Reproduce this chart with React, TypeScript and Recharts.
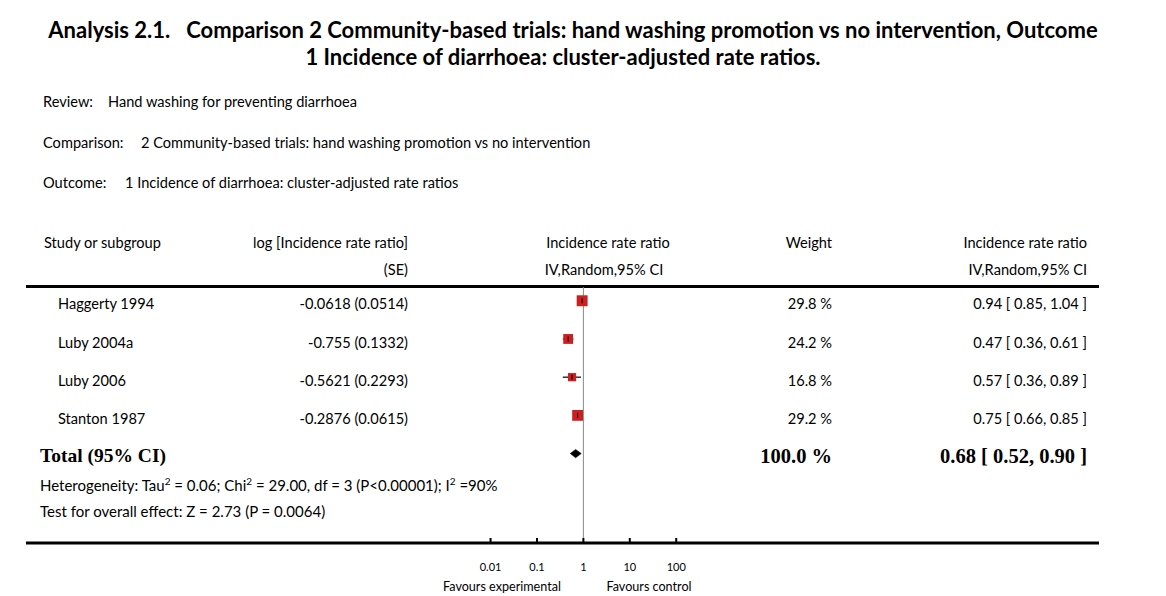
import React from 'react';
import { ScatterChart, Scatter, XAxis, YAxis, ErrorBar, ReferenceLine } from 'recharts';

// study rows
const studies = ['Haggerty 1994', 'Luby 2004a', 'Luby 2006', 'Stanton 1987'];
const logEstimates = [-0.0618, -0.755, -0.5621, -0.2876];
const standardErrors = [0.0514, 0.1332, 0.2293, 0.0615];
const weights = [29.8, 24.2, 16.8, 29.2];
const rateRatios = [0.94, 0.47, 0.57, 0.75];
const lowerCI = [0.85, 0.36, 0.36, 0.66];
const upperCI = [1.04, 0.61, 0.89, 0.85];

// pooled result
const totalWeight = 100.0;
const totalRatio = 0.68;
const totalLower = 0.52;
const totalUpper = 0.9;

const axisTicks = [0.01, 0.1, 1, 10, 100];

// axis domains chosen so the log axis runs under the whole table width
const X_MIN = 10 ** -12.01;
const X_MAX = 10 ** 11.11;
const DIAMOND_HALF = 0.11;

const SANS = 'Lato, "Open Sans", sans-serif';
const SERIF = '"Liberation Serif", "DejaVu Serif", serif';

const studyPoints = studies.map((name, i) => ({
  name,
  x: rateRatios[i],
  y: i,
  w: weights[i],
  err: [rateRatios[i] - lowerCI[i], upperCI[i] - rateRatios[i]],
}));

const totalRow = studies.length;
const diamondPoints = [
  { x: totalLower, y: totalRow },
  { x: totalRatio, y: totalRow - DIAMOND_HALF },
  { x: totalUpper, y: totalRow },
  { x: totalRatio, y: totalRow + DIAMOND_HALF },
];

const rowY = [304, 343, 381, 419];
const fmtCI = (v: number, lo: number, hi: number) =>
  `${v.toFixed(2)} [ ${lo.toFixed(2)}, ${hi.toFixed(2)} ]`;

type TProps = {
  x: number;
  y: number;
  align?: 'left' | 'right' | 'center';
  size?: number;
  bold?: boolean;
  font?: string;
  children: React.ReactNode;
};

const T: React.FC<TProps> = ({ x, y, align = 'left', size = 14.6, bold, font = SANS, children }) => {
  const style: React.CSSProperties = {
    position: 'absolute',
    top: y - 12,
    height: 24,
    lineHeight: '24px',
    fontSize: size,
    fontFamily: font,
    fontWeight: bold ? 700 : 400,
    color: '#000',
    whiteSpace: 'pre',
  };
  if (align === 'left') style.left = x;
  if (align === 'right') style.right = 1166 - x;
  if (align === 'center') {
    style.left = x - 600;
    style.width = 1200;
    style.textAlign = 'center';
  }
  return <div style={style}>{children}</div>;
};

const AxisTick = (props: any) => {
  const { x, y, payload } = props;
  return (
    <g>
      <line x1={x} x2={x} y1={y - 5} y2={y} stroke="#000" strokeWidth={2} />
      <text x={x} y={y + 28} textAnchor="middle" fontSize={11} fontFamily={SANS} fill="#000">
        {payload.value}
      </text>
    </g>
  );
};

const Square = (props: any) => {
  const { cx, cy, payload } = props;
  const s = 2 * Math.sqrt(payload.w);
  return <rect x={cx - s / 2} y={cy - s / 2} width={s} height={s} fill="#cc1f1f" />;
};

const CenterTick = (props: any) => {
  const { cx, cy } = props;
  return <line x1={cx} x2={cx} y1={cy - 2.5} y2={cy + 2.5} stroke="#000" strokeWidth={1} />;
};

const Diamond = (props: any) => {
  const pts = (props.points || []).map((p: any) => `${p.x},${p.y}`).join(' ');
  return <polygon points={pts} fill="#000" stroke="#000" strokeWidth={0.5} />;
};

const sup: React.CSSProperties = { fontSize: 10, verticalAlign: 'super', lineHeight: 0 };

const App: React.FC = () => {
  return (
    <div
      style={{
        position: 'absolute',
        left: 0,
        top: 0,
        width: 1166,
        height: 596,
        overflow: 'hidden',
        background: '#fff',
      }}
    >
      <T x={573} y={30} align="center" size={22} bold>
        {'Analysis 2.1.   Comparison 2 Community-based trials: hand washing promotion vs no intervention, Outcome'}
      </T>
      <T x={563} y={57} align="center" size={22} bold>
        1 Incidence of diarrhoea: cluster-adjusted rate ratios.
      </T>

      <T x={43} y={102}>Review:</T>
      <T x={108} y={102}>Hand washing for preventing diarrhoea</T>
      <T x={43} y={143}>Comparison:</T>
      <T x={141} y={143}>2 Community-based trials: hand washing promotion vs no intervention</T>
      <T x={43} y={183}>Outcome:</T>
      <T x={125} y={183}>1 Incidence of diarrhoea: cluster-adjusted rate ratios</T>

      <T x={44} y={243}>Study or subgroup</T>
      <T x={408} y={243} align="right">log [Incidence rate ratio]</T>
      <T x={408} y={270} align="right">(SE)</T>
      <T x={608} y={243} align="center">Incidence rate ratio</T>
      <T x={604} y={270} align="center">IV,Random,95% CI</T>
      <T x={832} y={243} align="right">Weight</T>
      <T x={1087} y={243} align="right">Incidence rate ratio</T>
      <T x={1087} y={270} align="right">IV,Random,95% CI</T>

      <div style={{ position: 'absolute', left: 26, top: 285, width: 1073, height: 3, background: '#000' }} />

      {studies.map((name, i) => (
        <React.Fragment key={name}>
          <T x={58} y={rowY[i]}>{name}</T>
          <T x={408} y={rowY[i]} align="right">{`${logEstimates[i]} (${standardErrors[i]})`}</T>
          <T x={832} y={rowY[i]} align="right">{`${weights[i].toFixed(1)} %`}</T>
          <T x={1087} y={rowY[i]} align="right">{fmtCI(rateRatios[i], lowerCI[i], upperCI[i])}</T>
        </React.Fragment>
      ))}

      <T x={40} y={456} size={19.5} bold font={SERIF}>Total (95% CI)</T>
      <T x={832} y={456} align="right" size={20.5} bold font={SERIF}>{`${totalWeight.toFixed(1)} %`}</T>
      <T x={1087} y={456} align="right" size={20.5} bold font={SERIF}>
        {fmtCI(totalRatio, totalLower, totalUpper).replace(/\[ /, '[ ')}
      </T>

      <T x={40} y={485} size={15}>
        Heterogeneity: Tau<span style={sup}>2</span> = 0.06; Chi<span style={sup}>2</span> = 29.00, df = 3 (P&lt;0.00001); I<span style={sup}>2</span> =90%
      </T>
      <T x={40} y={511} size={15}>Test for overall effect: Z = 2.73 (P = 0.0064)</T>

      <T x={502} y={587} align="center" size={12.6}>Favours experimental</T>
      <T x={649} y={587} align="center" size={12.6}>Favours control</T>

      <div style={{ position: 'absolute', left: 0, top: 0 }}>
        <ScatterChart width={1166} height={596} margin={{ top: 287, right: 67, bottom: 13, left: 26 }}>
          <XAxis
            dataKey="x"
            type="number"
            scale="log"
            domain={[X_MIN, X_MAX]}
            allowDataOverflow
            ticks={axisTicks}
            interval={0}
            tickLine={false}
            tickSize={0}
            tickMargin={0}
            axisLine={{ stroke: '#000', strokeWidth: 3 }}
            tick={<AxisTick />}
            height={40}
          />
          <YAxis dataKey="y" type="number" domain={[-0.36, 6.34]} reversed allowDataOverflow hide />
          <ReferenceLine x={1} stroke="#888" strokeWidth={1} />
          <Scatter data={studyPoints} shape={<Square />} isAnimationActive={false} />
          <Scatter data={studyPoints} shape={<CenterTick />} isAnimationActive={false}>
            <ErrorBar dataKey="err" direction="x" width={0} stroke="#000" strokeWidth={1.2} />
          </Scatter>
          <Scatter
            data={diamondPoints}
            shape={() => <g />}
            line={(p: any) => <Diamond {...p} />}
            lineType="joint"
            isAnimationActive={false}
          />
        </ScatterChart>
      </div>
    </div>
  );
};

export default App;
